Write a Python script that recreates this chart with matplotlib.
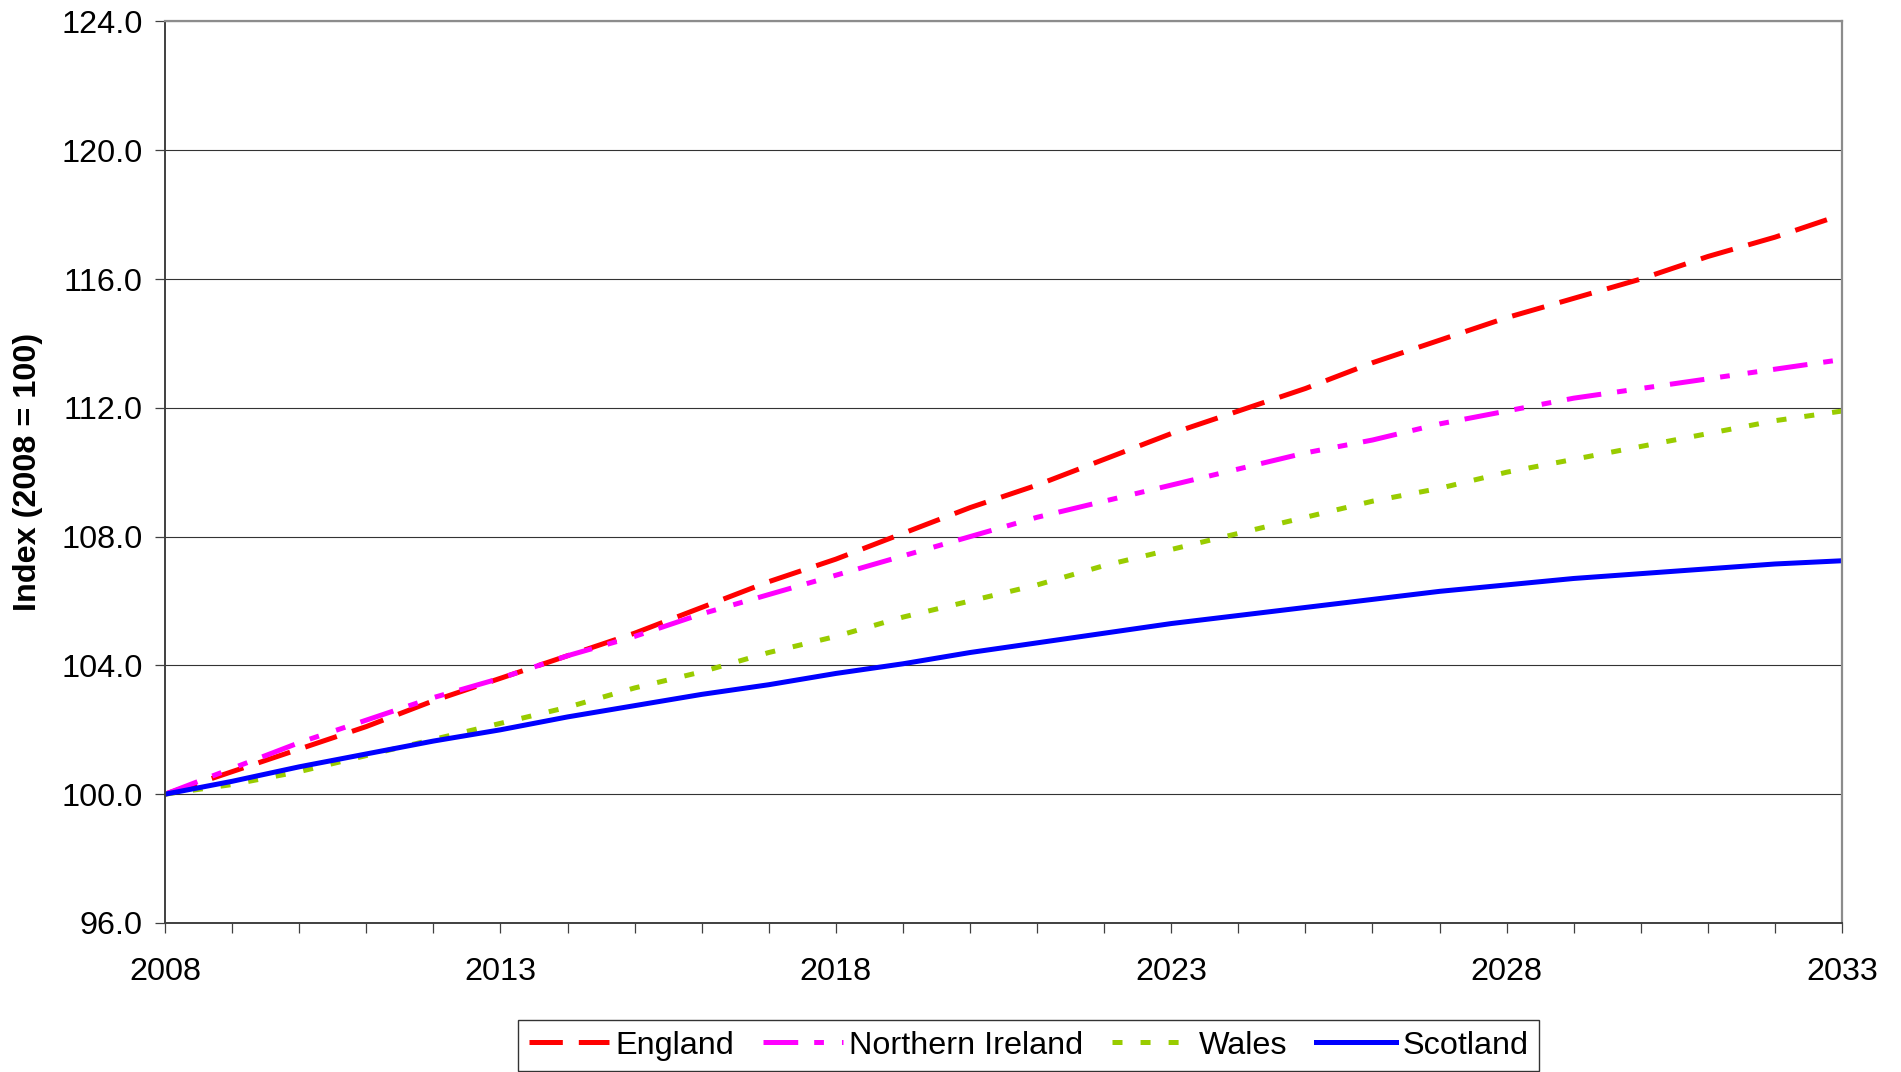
import matplotlib
matplotlib.use("Agg")
import matplotlib.pyplot as plt
from matplotlib.ticker import MultipleLocator, FormatStrFormatter

# Projected population index (2008 = 100)
years = list(range(2008, 2034))
england = [100.0, 100.7, 101.4, 102.1, 102.9, 103.6, 104.3, 105.0, 105.8, 106.6,
           107.3, 108.1, 108.9, 109.6, 110.4, 111.2, 111.9, 112.6, 113.4, 114.1,
           114.8, 115.4, 116.0, 116.7, 117.3, 118.0]
northern_ireland = [100.0, 100.8, 101.6, 102.3, 103.0, 103.6, 104.3, 104.9, 105.6, 106.2,
                    106.8, 107.4, 108.0, 108.6, 109.1, 109.6, 110.1, 110.6, 111.0, 111.5,
                    111.9, 112.3, 112.6, 112.9, 113.2, 113.5]
wales = [100.0, 100.3, 100.7, 101.2, 101.7, 102.2, 102.7, 103.3, 103.8, 104.4,
         104.9, 105.5, 106.0, 106.5, 107.1, 107.6, 108.1, 108.6, 109.1, 109.5,
         110.0, 110.4, 110.8, 111.2, 111.6, 111.9]
scotland = [100.0, 100.4, 100.85, 101.25, 101.65, 102.0, 102.4, 102.75, 103.1, 103.4,
            103.75, 104.05, 104.4, 104.7, 105.0, 105.3, 105.55, 105.8, 106.05, 106.3,
            106.5, 106.7, 106.85, 107.0, 107.15, 107.25]
year_labels = years[::5]

plt.rcParams['font.family'] = ['Liberation Sans', 'DejaVu Sans']
plt.rcParams['lines.scale_dashes'] = False
FS = 23.3

fig = plt.figure(figsize=(19.01, 10.72), dpi=100)
ax = fig.add_axes([0.0868, 0.139, 0.8822, 0.841])

lw = 3.6
ax.plot(years, england, color='#FF0000', lw=lw, linestyle=(0, (24, 11.5)), label='England')
ax.plot(years, northern_ireland, color='#FF00FF', lw=lw,
        linestyle=(0, (25, 11.5, 7, 13, 7, 11.5)), label='Northern Ireland')
ax.plot(years, wales, color='#99CC00', lw=lw, linestyle=(0, (7.2, 13)), label='Wales')
ax.plot(years, scotland, color='#0000FF', lw=lw, linestyle='-', label='Scotland')

ax.set_xlim(2008, 2033)
ax.set_ylim(96, 124)
ax.set_xticks(year_labels)
ax.set_xticks(years, minor=True)
ax.yaxis.set_major_locator(MultipleLocator(4))
ax.yaxis.set_major_formatter(FormatStrFormatter('%.1f'))

ax.tick_params(axis='both', which='major', direction='out', length=7.2, width=0.9,
               color='#404040', labelsize=FS)
ax.tick_params(axis='x', which='minor', direction='out', length=7.2, width=0.9, color='#404040')
ax.tick_params(axis='x', which='major', pad=17)
ax.tick_params(axis='y', which='major', pad=9)

ax.grid(axis='y', color='#333333', linewidth=0.8)
ax.set_axisbelow(True)

for side in ['left', 'bottom']:
    ax.spines[side].set_color('#404040')
    ax.spines[side].set_linewidth(1.4)
for side in ['top', 'right']:
    ax.spines[side].set_color('#8c8c8c')
    ax.spines[side].set_linewidth(1.6)

ax.set_ylabel('Index (2008 = 100)', fontsize=FS, fontweight='bold', labelpad=13)

leg = fig.legend(loc='center', bbox_to_anchor=(0.541, 0.0245), ncol=4, fontsize=FS,
                 frameon=True, fancybox=False, handlelength=2.5, handletextpad=0.18,
                 columnspacing=0.88, borderpad=0.33, borderaxespad=0)
leg.get_frame().set_edgecolor('black')
leg.get_frame().set_linewidth(1.0)

fig.savefig('out.png', dpi=100)
